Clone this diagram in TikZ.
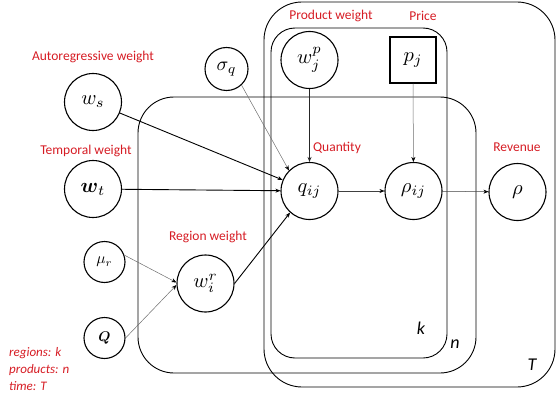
\documentclass[tikz,border=0pt]{standalone}
\usepackage{graphicx}
\usepackage{amsmath}
\usepackage{fontspec}
\setmainfont{Carlito}
\usetikzlibrary{arrows.meta}
\newcommand{\mynm}[2][2.05]{\scalebox{#1}{$#2$}}
\definecolor{lblred}{RGB}{214,28,36}
\definecolor{thingray}{RGB}{110,110,110}
\tikzset{
  plate/.style={draw=black, line width=0.9pt},
  var/.style={circle, draw=black, line width=1.1pt, fill=white, minimum size=57pt, inner sep=0pt},
  smallvar/.style={circle, draw=black, line width=1.1pt, fill=white, minimum size=41pt, inner sep=0pt},
  obs/.style={rectangle, draw=black, line width=1.3pt, fill=white, minimum size=46pt, inner sep=0pt},
  lbl/.style={text=lblred, font=\fontsize{13.5}{16}\selectfont, inner sep=0pt},
  platelbl/.style={font=\fontsize{18}{20}\selectfont\itshape, inner sep=0pt},
  strong/.style={draw=black, line width=0.9pt, -{Stealth[length=5pt,width=4pt]}},
  weak/.style={draw=thingray, line width=0.5pt, -{Stealth[length=5pt,width=4pt,color=black]}},
}
\begin{document}
\begin{tikzpicture}[x=1pt,y=-1pt]
\useasboundingbox (0,0) rectangle (556,401);
% plates
\draw[plate, rounded corners=36pt] (138,97) rectangle (476,373);
\draw[plate, rounded corners=38pt] (264,2) rectangle (555,387);
\draw[plate, rounded corners=24pt] (271,28) rectangle (447,358);
\node[platelbl] (lk) at (421,328) {k};
\node[platelbl] (ln) at (455,344) {n};
\node[platelbl] (lT) at (532,365) {T};
% nodes
\node[var] (ws) at (93,102) {\mynm{w_s}};
\node[var] (wt) at (93,189) {\mynm{\boldsymbol{w}_t}};
\node[smallvar, minimum size=43pt] (sig) at (226.5,69) {\mynm[1.95]{\sigma_q}};
\node[var] (wp) at (309.5,60) {\mynm{w_j^p}};
\node[obs] (pj) at (413,60) {\mynm{p_j}};
\node[var] (q) at (309.5,191) {\mynm{q_{ij}}};
\node[var] (rij) at (413.5,191) {\mynm{\rho_{ij}}};
\node[var] (rho) at (517.5,192) {\mynm{\rho}};
\node[smallvar] (mu) at (104.5,262) {\mynm[1.55]{\mu_r}};
\node[smallvar] (Q) at (104.5,338) {\mynm[1.4]{\boldsymbol{Q}}};
\node[var] (wr) at (205.5,283.5) {\mynm{w_i^r}};
% labels
\node[lbl] (tAR) at (93,57) {Autoregressive weight};
\node[lbl] (tTW) at (86,151) {Temporal weight};
\node[lbl] (tRW) at (208,237) {Region weight};
\node[lbl] (tPW) at (331,16) {Product weight};
\node[lbl] (tPr) at (423,16) {Price};
\node[lbl] (tQu) at (337,148) {Quantity};
\node[lbl] (tRe) at (517,147) {Revenue};
\node[lbl, anchor=north west, align=left, font=\fontsize{13}{17}\selectfont\itshape] (leg) at (9,347) {regions: k\\products: n\\time: T};
% edges
\draw[strong] (ws) -- (q);
\draw[strong] (wt) -- (q);
\draw[weak] (sig.-47) -- (q.135);
\draw[strong, line width=1.1pt, draw=black!85] (wp) -- (q);
\draw[weak] (pj) -- (rij);
\draw[weak, draw=black!75] (q) -- (rij);
\draw[weak, draw=black!75] (rij) -- (rho);
\draw[weak] (mu.19) -- (wr.178);
\draw[weak] (Q.east) -- (wr.183);
\draw[strong] (wr.east) -- (q.228);
\end{tikzpicture}
\end{document}
